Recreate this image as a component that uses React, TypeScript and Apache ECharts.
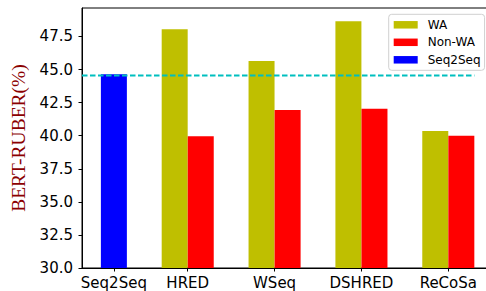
import React, { useEffect, useRef } from "react";
import * as echarts from "echarts";

// Categories along the x axis and their positions (in axis units)
const categories = ["Seq2Seq", "HRED", "WSeq", "DSHRED", "ReCoSa"];
const categoryPositions = [0.15, 1, 2, 3, 4];

// Grouped models (WA vs Non-WA)
const groupPositions = [1, 2, 3, 4];
const waValues = [48.05, 45.65, 48.65, 40.35];
const nonWaValues = [39.95, 41.95, 42.03, 40.0];

// Seq2Seq single bar
const seq2seqPositions = [0.15];
const seq2seqValues = [44.65];

// Dashed reference line (Seq2Seq level)
const baselineValue = 44.55;
const baselineSpan = [-0.217, 4.3];

// Axis ranges
const xRange = [-0.217, 4.48];
const yRange = [30, 49.65];
const yInterval = 2.5;

const pairOffset = 0.15;

export default function App() {
  const ref = useRef<HTMLDivElement>(null);

  useEffect(() => {
    if (!ref.current) return;
    const chart = echarts.init(ref.current, null, { renderer: "svg" });
    const labelFont = { fontFamily: "DejaVu Sans", fontSize: 15, color: "#000" };
    const nameFor = (v: number) => {
      let best = 0;
      categoryPositions.forEach((p, i) => {
        if (Math.abs(p - v) < Math.abs(categoryPositions[best] - v)) best = i;
      });
      return categories[best];
    };
    chart.setOption({
      animation: false,
      grid: {
        left: 82,
        top: 8,
        width: 408,
        height: 260,
        show: true,
        borderColor: "#000",
        borderWidth: 1,
      },
      legend: {
        data: ["WA", "Non-WA", "Seq2Seq"],
        orient: "vertical",
        left: 388.7,
        top: 14.3,
        icon: "rect",
        itemWidth: 24,
        itemHeight: 7.5,
        itemGap: 3.5,
        padding: [3.5, 4, 3.5, 5],
        borderColor: "#d0d0d0",
        borderWidth: 1,
        borderRadius: 3,
        backgroundColor: "rgba(255,255,255,0.8)",
        textStyle: {
          fontFamily: "DejaVu Sans",
          fontSize: 12,
          lineHeight: 14,
          color: "#000",
          padding: [0, 0, 0, 5],
        },
      },
      xAxis: {
        type: "value",
        min: xRange[0],
        max: xRange[1],
        splitLine: { show: false },
        axisLine: { show: true, onZero: false, lineStyle: { color: "#000", width: 1 } },
        axisTick: {
          show: true,
          inside: false,
          length: 3.5,
          customValues: categoryPositions,
          lineStyle: { color: "#000" },
        },
        axisLabel: {
          ...labelFont,
          margin: 7,
          customValues: categoryPositions,
          formatter: (v: number) => nameFor(v),
        },
      },
      yAxis: {
        type: "value",
        min: yRange[0],
        max: yRange[1],
        interval: yInterval,
        splitLine: { show: false },
        axisLine: { show: true, onZero: false, lineStyle: { color: "#000", width: 1 } },
        axisTick: { show: true, inside: false, length: 3.5, lineStyle: { color: "#000" } },
        axisLabel: {
          ...labelFont,
          margin: 9,
          showMaxLabel: false,
          formatter: (v: number) => v.toFixed(1),
        },
        name: "BERT-RUBER(%)",
        nameLocation: "middle",
        nameRotate: 90,
        nameGap: 41,
        nameTextStyle: {
          fontFamily: "Liberation Serif",
          fontSize: 19.5,
          color: "#8b0000",
        },
      },
      series: [
        {
          name: "WA",
          type: "bar",
          barWidth: 26,
          barGap: "-100%",
          itemStyle: { color: "#bfbf00" },
          data: groupPositions.map((p, i) => [p - pairOffset, waValues[i]]),
        },
        {
          name: "Non-WA",
          type: "bar",
          barWidth: 26,
          barGap: "-100%",
          itemStyle: { color: "#ff0000" },
          data: groupPositions.map((p, i) => [p + pairOffset, nonWaValues[i]]),
        },
        {
          name: "Seq2Seq",
          type: "bar",
          barWidth: 26,
          barGap: "-100%",
          itemStyle: { color: "#0000ff" },
          data: seq2seqPositions.map((p, i) => [p, seq2seqValues[i]]),
        },
        {
          name: "baseline",
          type: "line",
          symbol: "none",
          z: 5,
          lineStyle: { color: "#00bfbf", width: 2, type: [5.5, 2.5] },
          data: baselineSpan.map((x) => [x, baselineValue]),
        },
      ],
    });
    return () => chart.dispose();
  }, []);

  return (
    <div
      ref={ref}
      style={{ position: "fixed", left: 0, top: 0, width: 500, height: 291, background: "#fff" }}
    />
  );
}
